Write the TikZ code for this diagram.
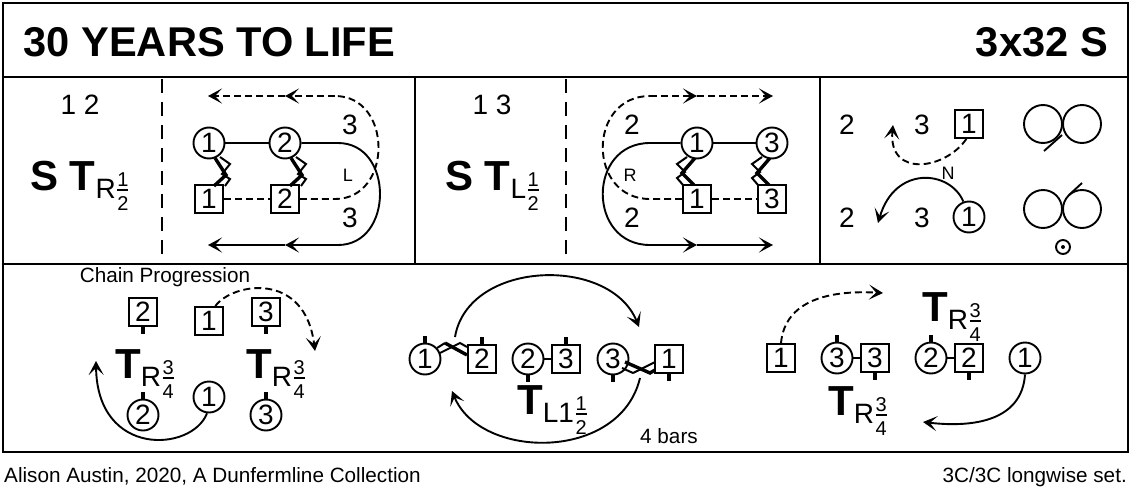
\documentclass[tikz,border=0pt]{standalone}
\usepackage{fontspec}
\setmainfont{Liberation Sans}
\usetikzlibrary{arrows.meta}

\newcommand{\fsz}[1]{\fontsize{#1}{#1}\selectfont}
% big T with its hand and fraction below the line
\newcommand{\fracpart}[2]{{\fsz{20}\kern1.5pt\rlap{\raisebox{4pt}{#1}}\rlap{\raisebox{-20pt}{#2}}\rule[-0.5pt]{11pt}{1.2pt}}}
\newcommand{\turnlab}[4]{{\fsz{42}\bfseries #1}\raisebox{-8pt}{\fsz{28}#2}\fracpart{#3}{#4}}

\begin{document}
\begin{tikzpicture}[
    x=1pt, y=-1pt,
    >={Stealth[length=14pt,width=15pt,inset=7pt]},
    every node/.style = {inner sep=0pt},
    frameline/.style = {line width=2.4pt},
    sepdash/.style   = {line width=1.8pt, dash pattern=on 14pt off 9pt},
    wom/.style       = {draw, circle, fill=white, minimum size=31pt, line width=1.9pt, font=\fsz{28}},
    man/.style       = {draw, rectangle, fill=white, minimum size=28pt, line width=1.9pt, font=\fsz{28}},
    loopring/.style  = {draw, circle, minimum size=38pt, line width=1.9pt},
    num/.style       = {font=\fsz{28}},
    hand/.style      = {font=\fsz{18}},
    note/.style      = {font=\fsz{20.7}},
    turn/.style      = {anchor=base west},
    arr/.style       = {line width=1.9pt, ->},
    plain/.style     = {line width=1.9pt},
    dashline/.style  = {line width=1.9pt, dash pattern=on 7pt off 4pt},
    dasharr/.style   = {line width=1.9pt, dash pattern=on 7pt off 4pt, ->},
    tickline/.style  = {line width=3.2pt},
    zigthick/.style  = {line width=3.4pt},
    zigthin/.style   = {line width=2pt}
]
\useasboundingbox (0,0) rectangle (1133,490);
% frame
\draw[frameline] (3,3) rectangle (1128,452);
\draw[frameline] (3,77) -- (1128,77);
\draw[frameline] (3,264) -- (1128,264);
\draw[frameline] (415,77) -- (415,264);
\draw[frameline] (820,77) -- (820,264);
\draw[sepdash] (162,79) -- (162,264);
\draw[sepdash] (566,79) -- (566,264);
% title and footer
\node (title) [anchor=base west, font=\fsz{41.6}\bfseries] at (23.5,56) {30 YEARS TO LIFE};
\node (tempo) [anchor=base east, font=\fsz{41.6}\bfseries] at (1108,56) {3x32 S};
\node (deviser) [anchor=base west, note] at (4,482) {Alison Austin, 2020, A Dunfermline Collection};
\node (setup) [anchor=base east, note] at (1127,482) {3C/3C longwise set.};

% first panel
\node (a12) [num] at (80,105) {1 2};
\node (aturn) [turn] at (30,190) {\turnlab{S T}{R}{1}{2}};
\node (ac1) [wom] at (209,143) {1};
\node (ac2) [wom] at (285,143) {2};
\node (as1) [man] at (209,199) {1};
\node (as2) [man] at (285,199) {2};
\node (a3up) [num] at (350,125) {3};
\node (a3dn) [num] at (350,218) {3};
\node (aL) [hand] at (348,175) {L};
\coordinate (abs) at (338,143);
\coordinate (abe) at (338,245);
\coordinate (abm) at (285,245);
\coordinate (abt) at (208,245);
\coordinate (ads) at (335,199);
\coordinate (ade) at (335,96);
\coordinate (adm) at (285,96);
\coordinate (adt) at (208,96);
\draw[plain] (ac1) -- (ac2);
\draw[dashline] (as1) -- (as2);
\draw[plain] (ac2) -- (abs) .. controls (394,143) and (394,245) .. (abe);
\draw[arr] (abe) -- (abm);
\draw[arr] (abm) -- (abt);
\draw[dashline] (as2) -- (ads) .. controls (393,199) and (393,96) .. (ade);
\draw[dasharr] (ade) -- (adm);
\draw[dasharr] (adm) -- (adt);
\foreach \n in {ac1,ac2} {
    \draw[zigthick] (\n) ++(6,15) -- ++(11,17) -- ++(-12,11);
    \draw[zigthin] (\n) ++(11,14) -- ++(10,7) -- ++(-8,10) -- ++(8,5) -- ++(-5,7);
}

% second panel
\node (b13) [num] at (492,105) {1 3};
\node (bturn) [turn] at (445,190) {\turnlab{S T}{L}{1}{2}};
\node (bc1) [wom] at (697,143) {1};
\node (bc3) [wom] at (772,143) {3};
\node (bs1) [man] at (697,199) {1};
\node (bs3) [man] at (772,199) {3};
\node (b2up) [num] at (632,125) {2};
\node (b2dn) [num] at (632,218) {2};
\node (bR) [hand] at (630,175) {R};
\coordinate (cbs) at (650,143);
\coordinate (cbe) at (650,245);
\coordinate (cbm) at (697,245);
\coordinate (cbt) at (773,245);
\coordinate (cds) at (650,199);
\coordinate (cde) at (650,96);
\coordinate (cdm) at (697,96);
\coordinate (cdt) at (773,96);
\draw[plain] (bc1) -- (bc3);
\draw[dashline] (bs1) -- (bs3);
\draw[plain] (bc1) -- (cbs) .. controls (587,143) and (587,245) .. (cbe);
\draw[arr] (cbe) -- (cbm);
\draw[arr] (cbm) -- (cbt);
\draw[dashline] (bs1) -- (cds) .. controls (587,199) and (587,96) .. (cde);
\draw[dasharr] (cde) -- (cdm);
\draw[dasharr] (cdm) -- (cdt);
\foreach \n in {bc1,bc3} {
    \draw[zigthick] (\n) ++(-2,15) -- ++(-13,15) -- ++(12,12);
    \draw[zigthin] (\n) ++(-10,14) -- ++(-10,7) -- ++(8,8) -- ++(-8,6) -- ++(6,7);
}

% third panel
\node (c2up) [num] at (847,125) {2};
\node (c3up) [num] at (922,125) {3};
\node (cs1) [man] at (969,124) {1};
\node (c2dn) [num] at (847,218) {2};
\node (c3dn) [num] at (922,218) {3};
\node (cc1) [wom] at (969,217) {1};
\node (cN) [hand] at (948,173) {N};
\coordinate (cat) at (893,125);
\coordinate (cbtip) at (878,223);
\draw[dasharr] (cs1.-100) .. controls (945,170) and (888,178) .. (cat);
\draw[arr] (cc1.110) .. controls (950,170) and (895,165) .. (cbtip);
\node (ra1) [loopring] at (1043,124) {};
\node (ra2) [loopring] at (1082,124) {};
\node (rb1) [loopring] at (1043,209) {};
\node (rb2) [loopring] at (1082,209) {};
\coordinate (ratick) at (1044,151);
\coordinate (rbtick) at (1082,183);
\draw[plain] (ratick) -- (1062,135);
\draw[plain] (rbtick) -- (1069,195);
\node (rdot) [draw, circle, minimum size=14pt, line width=1.9pt] at (1063,247) {};
\fill (rdot) circle (2);

% chain, lower left
\node (chain) [note] at (165,277) {Chain Progression};
\node (ds2) [man] at (143,312) {2};
\node (ds1) [man] at (209,321) {1};
\node (ds3) [man] at (266,312) {3};
\node (dc2) [wom] at (143,415) {2};
\node (dc1) [wom] at (209,397) {1};
\node (dc3) [wom] at (266,415) {3};
\node (dturn2) [turn] at (115,378) {\turnlab{T}{R}{3}{4}};
\node (dturn3) [turn] at (246,378) {\turnlab{T}{R}{3}{4}};
\coordinate (ddt) at (315,351);
\coordinate (dbt) at (96,361);
\draw[tickline] (ds2.south) -- ++(0,7);
\draw[tickline] (ds3.south) -- ++(0,7);
\draw[tickline] (dc2.north) -- ++(0,-7);
\draw[tickline] (dc3.north) -- ++(0,-7);
\draw[dasharr] (ds1.67) .. controls (232,283) and (305,270) .. (ddt);
\draw[arr] (dc1.-97) .. controls (192,452) and (97,458) .. (dbt);

% chain, middle
\node (ec1) [wom] at (425,359) {1};
\node (es2) [man] at (482,359) {2};
\node (ec2) [wom] at (528,359) {2};
\node (es3) [man] at (566,359) {3};
\node (ec3) [wom] at (613,359) {3};
\node (es1) [man] at (669,359) {1};
\node (eturn) [turn] at (517,414) {\turnlab{T}{L1}{1}{2}};
\node (ebars) [note] at (669,436) {4 bars};
\coordinate (eup) at (455,337);
\coordinate (eupt) at (639,327);
\coordinate (edn) at (640,378);
\coordinate (ednt) at (452,391);
\draw[plain] (ec2) -- (es3);
\draw[tickline] (ec1.north) -- ++(0,-7);
\draw[tickline] (es2.north) -- ++(0,-7);
\draw[tickline] (ec2.south) -- ++(0,7);
\draw[tickline] (es3.north) -- ++(0,-7);
\draw[tickline] (ec3.south) -- ++(0,7);
\draw[tickline] (es1.south) -- ++(0,7);
\draw[zigthick] (ec1) ++(20,-16) -- ++(22,12);
\draw[zigthin] (ec1) ++(15,-6) -- ++(20,-10) -- ++(7,4);
\draw[zigthin] (ec1) ++(12,-11) -- ++(8,-5);
\draw[zigthick] (ec3) ++(12,3) -- ++(25,11) -- ++(5,-3);
\draw[zigthin] (ec3) ++(20,14) -- ++(22,-11);
\draw[zigthin] (ec3) ++(9,9) -- ++(11,5);
\draw[arr] (eup) .. controls (468,260) and (610,255) .. (eupt);
\draw[arr] (edn) .. controls (620,462) and (480,460) .. (ednt);

% chain, lower right
\node (fs1) [man] at (781,358) {1};
\node (fc3) [wom] at (837,358) {3};
\node (fs3) [man] at (875,358) {3};
\node (fc2) [wom] at (931,358) {2};
\node (fs2) [man] at (969,358) {2};
\node (fc1) [wom] at (1025,358) {1};
\node (fturn1) [turn] at (922,321) {\turnlab{T}{R}{3}{4}};
\node (fturn2) [turn] at (828,415) {\turnlab{T}{R}{3}{4}};
\coordinate (fdt) at (883,293);
\coordinate (fbt) at (923,422);
\draw[plain] (fc3) -- (fs3);
\draw[plain] (fc2) -- (fs2);
\draw[tickline] (fc3.north) -- ++(0,-7);
\draw[tickline] (fs3.south) -- ++(0,7);
\draw[tickline] (fc2.north) -- ++(0,-7);
\draw[tickline] (fs2.south) -- ++(0,7);
\draw[dasharr] (fs1.north) .. controls (785,300) and (830,290) .. (fdt);
\draw[arr] (fc1.south) .. controls (1022,420) and (975,428) .. (fbt);
\end{tikzpicture}
\end{document}
